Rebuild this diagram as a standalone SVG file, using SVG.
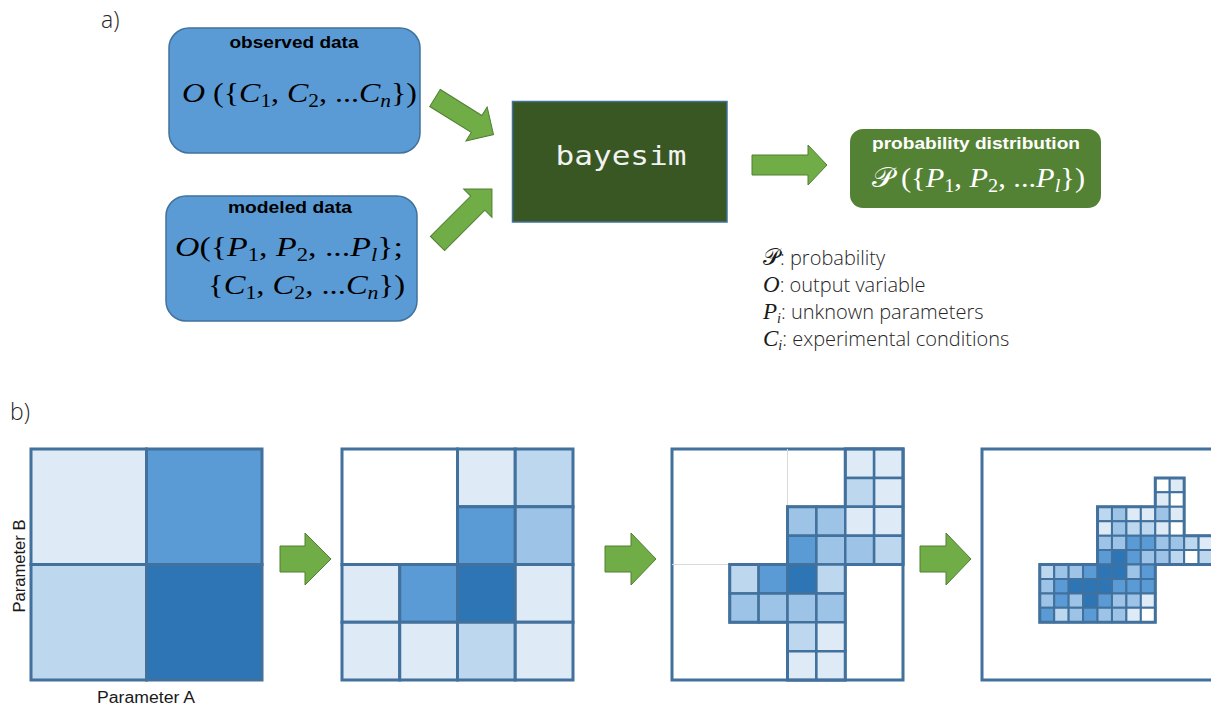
<svg xmlns="http://www.w3.org/2000/svg" width="1211" height="708" viewBox="0 0 1211 708">
<style>
.lbl{font-family:"Open Sans","Liberation Sans",sans-serif;font-weight:300;fill:#262626}
.hd{font-family:"Liberation Sans",Arial,sans-serif;font-weight:bold;font-size:16.5px}
.m{font-family:"Liberation Serif","DejaVu Serif",serif;font-size:27px}
.i{font-style:italic}
.sub{font-size:18px}
.box{fill:#5b9bd5;stroke:#41719c;stroke-width:1.5}
.arr{fill:#70ad47;stroke:#507e32;stroke-width:1}
.g rect{stroke:#41719c;vector-effect:non-scaling-stroke}
.c0{fill:#ffffff}.c1{fill:#deebf7}.c2{fill:#bdd7ee}.c3{fill:#9dc3e6}.c4{fill:#5b9bd5}.c5{fill:#2e75b6}
.ol{fill:none;stroke:#41719c;vector-effect:non-scaling-stroke}
.ax{font-family:"Liberation Sans",Arial,sans-serif;font-size:16px;fill:#1a1a1a}
.lm{font-family:"Liberation Serif","DejaVu Serif",serif;font-size:23px;font-weight:normal;fill:#1a1a1a}
.ls{font-family:"Liberation Serif","DejaVu Serif",serif;font-size:14px;font-style:italic;font-weight:normal;fill:#1a1a1a}
</style>
<rect width="1211" height="708" fill="#ffffff"/>
<text class="lbl" x="101" y="28" font-size="23">a)</text>
<text class="lbl" x="10" y="420" font-size="23">b)</text>

<g id="observed">
<rect class="box" x="169" y="28" width="251" height="125" rx="20"/>
<text class="hd" x="294" y="48" text-anchor="middle" textLength="129" lengthAdjust="spacingAndGlyphs">observed data</text>
<text class="m" x="182" y="102" textLength="235" lengthAdjust="spacingAndGlyphs"><tspan class="i">O</tspan> ({<tspan class="i">C</tspan><tspan class="sub" dy="5">1</tspan><tspan dy="-5">, </tspan><tspan class="i">C</tspan><tspan class="sub" dy="5">2</tspan><tspan dy="-5">, ...</tspan><tspan class="i">C</tspan><tspan class="sub i" dy="5">n</tspan><tspan dy="-5">})</tspan></text>
</g>

<g id="modeled">
<rect class="box" x="166" y="196" width="251" height="125" rx="20"/>
<text class="hd" x="290" y="213" text-anchor="middle" textLength="124" lengthAdjust="spacingAndGlyphs">modeled data</text>
<text class="m" x="175" y="256" textLength="228" lengthAdjust="spacingAndGlyphs"><tspan class="i">O</tspan>({<tspan class="i">P</tspan><tspan class="sub" dy="5">1</tspan><tspan dy="-5">, </tspan><tspan class="i">P</tspan><tspan class="sub" dy="5">2</tspan><tspan dy="-5">, ...</tspan><tspan class="i">P</tspan><tspan class="sub i" dy="5">l</tspan><tspan dy="-5">};</tspan></text>
<text class="m" x="208" y="294" textLength="197" lengthAdjust="spacingAndGlyphs">{<tspan class="i">C</tspan><tspan class="sub" dy="5">1</tspan><tspan dy="-5">, </tspan><tspan class="i">C</tspan><tspan class="sub" dy="5">2</tspan><tspan dy="-5">, ...</tspan><tspan class="i">C</tspan><tspan class="sub i" dy="5">n</tspan><tspan dy="-5">})</tspan></text>
</g>

<g id="bayesim">
<rect x="512.5" y="101.5" width="214.5" height="120.5" fill="#385723" stroke="#41719c" stroke-width="1.5"/>
<text x="621" y="165" text-anchor="middle" font-family="'DejaVu Sans Mono','Liberation Mono',monospace" font-size="27" fill="#f2f2f2" textLength="131" lengthAdjust="spacingAndGlyphs">bayesim</text>
</g>

<g id="probability">
<rect x="850" y="129" width="251" height="79" rx="13" fill="#548235"/>
<text class="hd" x="976" y="149" text-anchor="middle" fill="#ffffff" textLength="208" lengthAdjust="spacingAndGlyphs">probability distribution</text>
<text class="m" x="872" y="187" fill="#ffffff" textLength="213" lengthAdjust="spacingAndGlyphs">𝒫 ({<tspan class="i">P</tspan><tspan class="sub" dy="5">1</tspan><tspan dy="-5">, </tspan><tspan class="i">P</tspan><tspan class="sub" dy="5">2</tspan><tspan dy="-5">, ...</tspan><tspan class="i">P</tspan><tspan class="sub i" dy="5">l</tspan><tspan dy="-5">})</tspan></text>
</g>

<g id="legend">
<text class="lbl" x="763" y="265" font-size="20"><tspan class="lm">𝒫</tspan>: probability</text>
<text class="lbl" x="763" y="292" font-size="20"><tspan class="lm i">O</tspan>: output variable</text>
<text class="lbl" x="763" y="319" font-size="20"><tspan class="lm i">P</tspan><tspan class="ls" dy="4">i</tspan><tspan dy="-4">: unknown parameters</tspan></text>
<text class="lbl" x="763" y="346" font-size="20"><tspan class="lm i">C</tspan><tspan class="ls" dy="4">i</tspan><tspan dy="-4">: experimental conditions</tspan></text>
</g>

<g id="connectors">
<path class="arr" transform="translate(435,98) rotate(32)" d="M0,-10 L49,-10 L49,-20 L69,0 L49,20 L49,10 L0,10 Z"/>
<path class="arr" transform="translate(437.5,243.5) rotate(-45)" d="M0,-10 L57,-10 L57,-20 L77,0 L57,20 L57,10 L0,10 Z"/>
<path class="arr" d="M752,155 L808,155 L808,145 L827,165 L808,185 L808,175 L752,175 Z"/>
<path class="arr" d="M280,546 L305,546 L305,533 L331,559 L305,585 L305,572 L280,572 Z"/>
<path class="arr" d="M605,546 L631,546 L631,533 L656,559 L631,585 L631,572 L605,572 Z"/>
<path class="arr" d="M920,546 L946,546 L946,533 L971,559 L946,585 L946,572 L920,572 Z"/>
</g>

<g id="panel1">
<g class="g" transform="translate(31,449) scale(115.5)" stroke-width="3">
<rect x="0" y="0" width="1" height="1" class="c1"/>
<rect x="1" y="0" width="1" height="1" class="c4"/>
<rect x="0" y="1" width="1" height="1" class="c2"/>
<rect x="1" y="1" width="1" height="1" class="c5"/>
</g>
<text class="ax" x="146" y="703" text-anchor="middle" textLength="98" lengthAdjust="spacingAndGlyphs">Parameter A</text>
<text class="ax" transform="translate(24.5,566) rotate(-90)" text-anchor="middle" textLength="93" lengthAdjust="spacingAndGlyphs">Parameter B</text>
</g>

<g id="panel2">
<g class="g" transform="translate(342,449) scale(57.75)" stroke-width="3">
<rect x="0" y="0" width="2" height="2" class="c0"/>
<rect x="2" y="0" width="1" height="1" class="c1"/>
<rect x="3" y="0" width="1" height="1" class="c2"/>
<rect x="2" y="1" width="1" height="1" class="c4"/>
<rect x="3" y="1" width="1" height="1" class="c3"/>
<rect x="0" y="2" width="1" height="1" class="c1"/>
<rect x="1" y="2" width="1" height="1" class="c4"/>
<rect x="2" y="2" width="1" height="1" class="c5"/>
<rect x="3" y="2" width="1" height="1" class="c1"/>
<rect x="0" y="3" width="1" height="1" class="c1"/>
<rect x="1" y="3" width="1" height="1" class="c1"/>
<rect x="2" y="3" width="1" height="1" class="c2"/>
<rect x="3" y="3" width="1" height="1" class="c1"/>
</g>
</g>

<g id="panel3">
<g class="g" transform="translate(672,449) scale(28.875)">
<rect x="0" y="0" width="8" height="8" class="c0" stroke-width="3"/>
<path d="M4,0 V2 M0,4 H2" fill="none" stroke="#d9d9d9" stroke-width="1" vector-effect="non-scaling-stroke"/>
<g stroke-width="2.5">
<rect x="6" y="0" width="1" height="1" class="c1"/>
<rect x="7" y="0" width="1" height="1" class="c1"/>
<rect x="6" y="1" width="1" height="1" class="c2"/>
<rect x="7" y="1" width="1" height="1" class="c1"/>
<rect x="4" y="2" width="1" height="1" class="c3"/>
<rect x="5" y="2" width="1" height="1" class="c3"/>
<rect x="6" y="2" width="1" height="1" class="c1"/>
<rect x="7" y="2" width="1" height="1" class="c1"/>
<rect x="4" y="3" width="1" height="1" class="c4"/>
<rect x="5" y="3" width="1" height="1" class="c3"/>
<rect x="6" y="3" width="1" height="1" class="c3"/>
<rect x="7" y="3" width="1" height="1" class="c2"/>
<rect x="2" y="4" width="1" height="1" class="c2"/>
<rect x="3" y="4" width="1" height="1" class="c4"/>
<rect x="4" y="4" width="1" height="1" class="c5"/>
<rect x="5" y="4" width="1" height="1" class="c2"/>
<rect x="2" y="5" width="1" height="1" class="c3"/>
<rect x="3" y="5" width="1" height="1" class="c3"/>
<rect x="4" y="5" width="1" height="1" class="c3"/>
<rect x="5" y="5" width="1" height="1" class="c3"/>
<rect x="4" y="6" width="1" height="1" class="c2"/>
<rect x="5" y="6" width="1" height="1" class="c1"/>
<rect x="4" y="7" width="1" height="1" class="c1"/>
<rect x="5" y="7" width="1" height="1" class="c1"/>
</g>
<path class="ol" stroke-width="3" d="M6,0 H8 V4 H6 V8 H4 V6 H2 V4 H4 V2 H6 Z"/>
</g>
</g>

<g id="panel4">
<g class="g" transform="translate(982,449) scale(14.44)">
<rect x="0" y="0" width="16" height="16" class="c0" stroke-width="3"/>
<g stroke-width="2">
<rect x="12" y="2" width="1" height="1" class="c0"/>
<rect x="13" y="2" width="1" height="1" class="c1"/>
<rect x="12" y="3" width="1" height="1" class="c1"/>
<rect x="13" y="3" width="1" height="1" class="c0"/>
<rect x="8" y="4" width="1" height="1" class="c2"/>
<rect x="9" y="4" width="1" height="1" class="c3"/>
<rect x="10" y="4" width="1" height="1" class="c1"/>
<rect x="11" y="4" width="1" height="1" class="c1"/>
<rect x="12" y="4" width="1" height="1" class="c3"/>
<rect x="13" y="4" width="1" height="1" class="c1"/>
<rect x="8" y="5" width="1" height="1" class="c1"/>
<rect x="9" y="5" width="1" height="1" class="c3"/>
<rect x="10" y="5" width="1" height="1" class="c2"/>
<rect x="11" y="5" width="1" height="1" class="c2"/>
<rect x="12" y="5" width="1" height="1" class="c1"/>
<rect x="13" y="5" width="1" height="1" class="c0"/>
<rect x="8" y="6" width="1" height="1" class="c3"/>
<rect x="9" y="6" width="1" height="1" class="c3"/>
<rect x="10" y="6" width="1" height="1" class="c4"/>
<rect x="11" y="6" width="1" height="1" class="c4"/>
<rect x="12" y="6" width="1" height="1" class="c3"/>
<rect x="13" y="6" width="1" height="1" class="c3"/>
<rect x="14" y="6" width="1" height="1" class="c2"/>
<rect x="15" y="6" width="1" height="1" class="c1"/>
<rect x="8" y="7" width="1" height="1" class="c4"/>
<rect x="9" y="7" width="1" height="1" class="c5"/>
<rect x="10" y="7" width="1" height="1" class="c4"/>
<rect x="11" y="7" width="1" height="1" class="c3"/>
<rect x="12" y="7" width="1" height="1" class="c3"/>
<rect x="13" y="7" width="1" height="1" class="c2"/>
<rect x="14" y="7" width="1" height="1" class="c0"/>
<rect x="15" y="7" width="1" height="1" class="c2"/>
<rect x="4" y="8" width="1" height="1" class="c2"/>
<rect x="5" y="8" width="1" height="1" class="c3"/>
<rect x="6" y="8" width="1" height="1" class="c3"/>
<rect x="7" y="8" width="1" height="1" class="c4"/>
<rect x="8" y="8" width="1" height="1" class="c5"/>
<rect x="9" y="8" width="1" height="1" class="c5"/>
<rect x="10" y="8" width="1" height="1" class="c3"/>
<rect x="11" y="8" width="1" height="1" class="c4"/>
<rect x="4" y="9" width="1" height="1" class="c3"/>
<rect x="5" y="9" width="1" height="1" class="c4"/>
<rect x="6" y="9" width="1" height="1" class="c5"/>
<rect x="7" y="9" width="1" height="1" class="c5"/>
<rect x="8" y="9" width="1" height="1" class="c5"/>
<rect x="9" y="9" width="1" height="1" class="c4"/>
<rect x="10" y="9" width="1" height="1" class="c4"/>
<rect x="11" y="9" width="1" height="1" class="c4"/>
<rect x="4" y="10" width="1" height="1" class="c3"/>
<rect x="5" y="10" width="1" height="1" class="c4"/>
<rect x="6" y="10" width="1" height="1" class="c3"/>
<rect x="7" y="10" width="1" height="1" class="c5"/>
<rect x="8" y="10" width="1" height="1" class="c4"/>
<rect x="9" y="10" width="1" height="1" class="c3"/>
<rect x="10" y="10" width="1" height="1" class="c3"/>
<rect x="11" y="10" width="1" height="1" class="c1"/>
<rect x="4" y="11" width="1" height="1" class="c4"/>
<rect x="5" y="11" width="1" height="1" class="c2"/>
<rect x="6" y="11" width="1" height="1" class="c3"/>
<rect x="7" y="11" width="1" height="1" class="c4"/>
<rect x="8" y="11" width="1" height="1" class="c3"/>
<rect x="9" y="11" width="1" height="1" class="c3"/>
<rect x="10" y="11" width="1" height="1" class="c1"/>
<rect x="11" y="11" width="1" height="1" class="c0"/>
</g>
<path class="ol" stroke-width="3" d="M4,8 H8 V4 H12 V2 H14 V6 H16 V8 H12 V12 H4 Z"/>
</g>
</g>
</svg>
